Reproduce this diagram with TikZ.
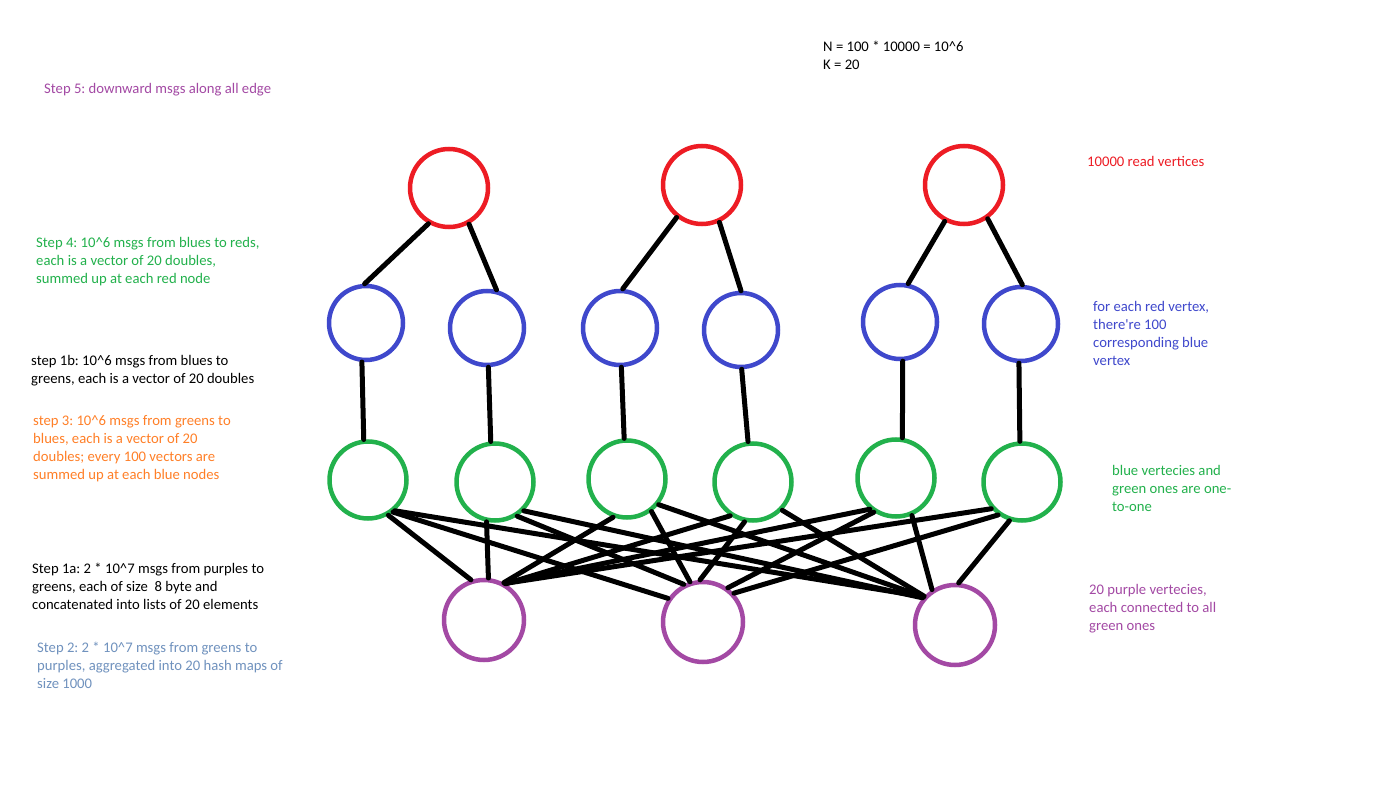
\documentclass[tikz,border=0pt]{standalone}
\usepackage{fontspec}
\setmainfont{Carlito}
\frenchspacing
\definecolor{pred}{HTML}{ED1C24}
\definecolor{pblue}{HTML}{3F48CC}
\definecolor{pgreen}{HTML}{22B14C}
\definecolor{ppurple}{HTML}{A349A4}
\definecolor{porange}{HTML}{FF7F27}
\definecolor{plblue}{HTML}{7092BE}
\begin{document}
\begin{tikzpicture}[x=1pt,y=-1pt,
  vtx/.style={circle, draw, line width=4.5pt, inner sep=0pt},
  redv/.style={vtx, draw=pred, minimum size=78pt},
  bluev/.style={vtx, draw=pblue, minimum size=74pt},
  greenv/.style={vtx, draw=pgreen, minimum size=77pt},
  purplev/.style={vtx, draw=ppurple, minimum size=80pt},
  edge/.style={line width=5pt, line cap=round, black},
  txt/.style={anchor=base west, inner sep=0pt, align=left,
    font=\fontsize{14.67}{18}\selectfont\frenchspacing}]
\useasboundingbox (0,0) rectangle (1390,802);
\fill[white] (0,0) rectangle (1390,802);
% vertices
\node[redv] (R1) at (449,188) {};
\node[redv] (R2) at (702,185) {};
\node[redv] (R3) at (964,185) {};
\node[bluev] (B1) at (366,323) {};
\node[bluev] (B2) at (487,328) {};
\node[bluev] (B3) at (620,328) {};
\node[bluev] (B4) at (741,330) {};
\node[bluev] (B5) at (900,322) {};
\node[bluev] (B6) at (1021,324) {};
\node[greenv] (G1) at (368,480) {};
\node[greenv] (G2) at (495,482) {};
\node[greenv] (G3) at (627,479) {};
\node[greenv] (G4) at (753,482) {};
\node[greenv] (G5) at (896,478) {};
\node[greenv] (G6) at (1022,482) {};
\node[purplev] (P1) at (484,620) {};
\node[purplev] (P2) at (703,622) {};
\node[purplev] (P3) at (955,625) {};
% red - blue
\draw[edge] (R1.-120) -- (B1.92);
\draw[edge] (R1.-61) -- (B2.76);
\draw[edge] (R2.-128) -- (B3.86);
\draw[edge] (R2.-65) -- (B4.90);
\draw[edge] (R3.-118) -- (B5.78);
\draw[edge] (R3.-55) -- (B6.88);
% blue - green
\draw[edge] (B1.-96) -- (G1.96);
\draw[edge] (B2.-88) -- (G2.96);
\draw[edge] (B3.-88) -- (G3.94);
\draw[edge] (B4.-89) -- (G4.97);
\draw[edge] (B5.-86) -- (G5.81);
\draw[edge] (B6.-93) -- (G6.93);
% green - purple
\draw[edge] (G1.-60) -- (P1.108);
\draw[edge] (G1.-52) -- (P2.146);
\draw[edge] (G1.-49) -- (P3.138);
\draw[edge] (G2.-102) -- (P1.84);
\draw[edge] (G2.-57) -- (P2.117);
\draw[edge] (G2.-45) -- (P3.140);
\draw[edge] (G3.-110) -- (P1.62);
\draw[edge] (G3.-53) -- (P2.108);
\draw[edge] (G3.-39) -- (P3.138);
\draw[edge] (G4.-124) -- (P1.59);
\draw[edge] (G4.-102) -- (P2.94);
\draw[edge] (G4.-44) -- (P3.137);
\draw[edge] (G5.-130) -- (P1.60);
\draw[edge] (G5.-123) -- (P2.54);
\draw[edge] (G5.-67) -- (P3.123);
\draw[edge] (G6.-139) -- (P1.60);
\draw[edge] (G6.-126) -- (P2.43);
\draw[edge] (G6.-108) -- (P3.85);
% texts (base anchor = baseline of the last line)
\node[txt, text=ppurple] (t5) at (44,94) {Step 5: downward msgs along all edge};
\node[txt, text=pgreen] (t4) at (36,284) {Step 4: 10\textasciicircum 6 msgs from blues to reds,\\each is a vector of 20 doubles,\\summed up at each red node};
\node[txt, text=black] (t1b) at (31,384) {step 1b: 10\textasciicircum 6 msgs from blues to\\greens, each is a vector of 20 doubles};
\node[txt, text=porange] (t3) at (33,479) {step 3: 10\textasciicircum 6 msgs from greens to\\blues, each is a vector of 20\\doubles; every 100 vectors are\\summed up at each blue nodes};
\node[txt, text=black] (t1a) at (32,609) {Step 1a: 2 * 10\textasciicircum 7 msgs from purples to\\greens, each of size\ \ 8 byte and\\concatenated into lists of 20 elements};
\node[txt, text=plblue] (t2) at (37,688) {Step 2: 2 * 10\textasciicircum 7 msgs from greens to\\purples, aggregated into 20 hash maps of\\size 1000};
\node[txt, text=black] (tn) at (823,70) {N = 100 * 10000 = 10\textasciicircum 6\\K = 20};
\node[txt, text=pred] (tr) at (1087,167) {10000 read vertices};
\node[txt, text=pblue] (tb) at (1093,366) {for each red vertex,\\there\textquotesingle re 100\\corresponding blue\\vertex};
\node[txt, text=pgreen] (tg) at (1112,511) {blue vertecies and\\green ones are one-\\to-one};
\node[txt, text=ppurple] (tp) at (1089,630) {20 purple vertecies,\\each connected to all\\green ones};
\end{tikzpicture}
\end{document}
